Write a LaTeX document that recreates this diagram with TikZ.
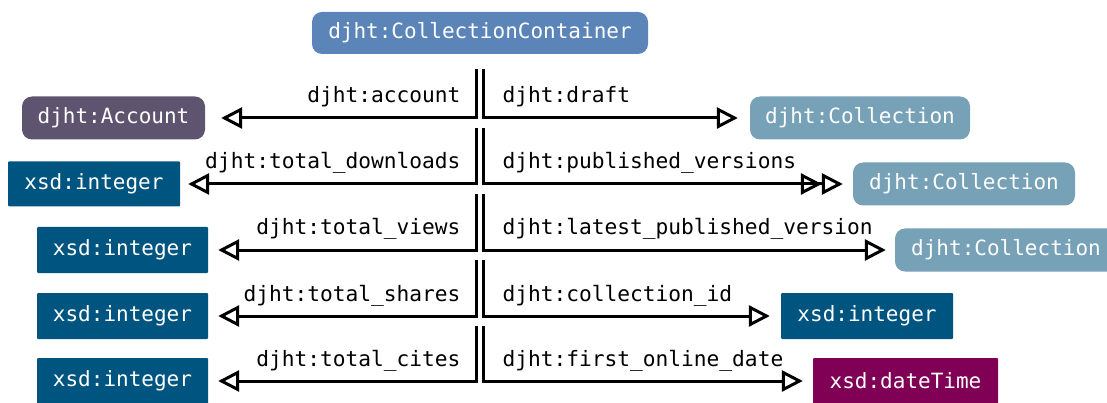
\documentclass[tikz,border=0pt]{standalone}
\usepackage{fontspec}
\setmonofont{DejaVu Sans Mono}
\usetikzlibrary{arrows.meta}
\definecolor{ccblue}{HTML}{5B84B8}
\definecolor{accpurple}{HTML}{5E5470}
\definecolor{colblue}{HTML}{76A1B7}
\definecolor{intblue}{HTML}{005580}
\definecolor{dtpurple}{HTML}{800055}
\tikzset{
  x=1pt, y=-1pt,
  box/.style={text=white, font=\fontsize{21}{24}\selectfont\ttfamily, inner sep=0pt, anchor=center},
  roundbox/.style={box, rounded corners=10pt},
  sqbox/.style={box, rounded corners=1pt},
  lbl/.style={font=\fontsize{21.2}{24}\selectfont\ttfamily, inner sep=0pt, text=black},
  llbl/.style={lbl, anchor=base east, xshift=-14pt, yshift=15pt},
  rlbl/.style={lbl, anchor=base west, xshift=18pt, yshift=15pt},
  conn/.style={line width=3pt, -{Triangle[open, length=21pt, width=21pt, line width=3pt]}},
  dconn/.style={line width=3pt, -{Triangle[open, length=21pt, width=21pt, line width=3pt]Triangle[open, length=21pt, width=21pt, line width=3pt]}},
}
\begin{document}
\begin{tikzpicture}
\useasboundingbox (0,0) rectangle (1107,403);
% nodes
\node[roundbox, fill=ccblue, minimum width=336pt, minimum height=42pt] (cc) at (480,33) {djht:CollectionContainer};
\node[roundbox, fill=accpurple, minimum width=183pt, minimum height=43pt] (acc) at (113.5,118) {djht:Account};
\node[roundbox, fill=colblue, minimum width=220pt, minimum height=43pt] (col1) at (860,118) {djht:Collection};
\node[sqbox, fill=intblue, minimum width=172pt, minimum height=45pt] (int1) at (94,184) {xsd:integer};
\node[roundbox, fill=colblue, minimum width=222pt, minimum height=43pt] (col2) at (964,184) {djht:Collection};
\node[sqbox, fill=intblue, minimum width=171pt, minimum height=46pt] (int2) at (122.5,250) {xsd:integer};
\node[roundbox, fill=colblue, minimum width=222pt, minimum height=43pt] (col3) at (1006,250) {djht:Collection};
\node[sqbox, fill=intblue, minimum width=171pt, minimum height=46pt] (int3) at (122.5,316) {xsd:integer};
\node[sqbox, fill=intblue, minimum width=172pt, minimum height=46pt] (int4) at (867,316) {xsd:integer};
\node[sqbox, fill=intblue, minimum width=171pt, minimum height=46pt] (int5) at (122.5,381) {xsd:integer};
\node[sqbox, fill=dtpurple, minimum width=185pt, minimum height=46pt] (dt) at (905.5,381) {xsd:dateTime};
% connector starts
\coordinate (l1) at (476,69);  \coordinate (r1) at (483,69);
\coordinate (l2) at (476,128); \coordinate (r2) at (483,128);
\coordinate (l3) at (476,194); \coordinate (r3) at (483,194);
\coordinate (l4) at (476,260); \coordinate (r4) at (483,260);
\coordinate (l5) at (476,326); \coordinate (r5) at (483,326);
% connectors
\draw[conn, shorten >=16pt] (l1) |- node[llbl, pos=0.5] {djht:account} (acc.east);
\draw[conn, shorten >=12pt] (r1) |- node[rlbl, pos=0.5] {djht:draft} (col1.west);
\draw[conn, shorten >=8pt] (l2) |- node[llbl, pos=0.5] {djht:total\_downloads} (int1.east);
\draw[dconn, shorten >=10pt] (r2) |- node[rlbl, pos=0.5] {djht:published\_versions} (col2.west);
\draw[conn, shorten >=10pt] (l3) |- node[llbl, pos=0.5] {djht:total\_views} (int2.east);
\draw[conn, shorten >=9pt] (r3) |- node[rlbl, pos=0.5] {djht:latest\_published\_version} (col3.west);
\draw[conn, shorten >=10pt] (l4) |- node[llbl, pos=0.5] {djht:total\_shares} (int3.east);
\draw[conn, shorten >=11pt] (r4) |- node[rlbl, pos=0.5] {djht:collection\_id} (int4.west);
\draw[conn, shorten >=10pt] (l5) |- node[llbl, pos=0.5] {djht:total\_cites} (int5.east);
\draw[conn, shorten >=10pt] (r5) |- node[rlbl, pos=0.5] {djht:first\_online\_date} (dt.west);
\end{tikzpicture}
\end{document}
